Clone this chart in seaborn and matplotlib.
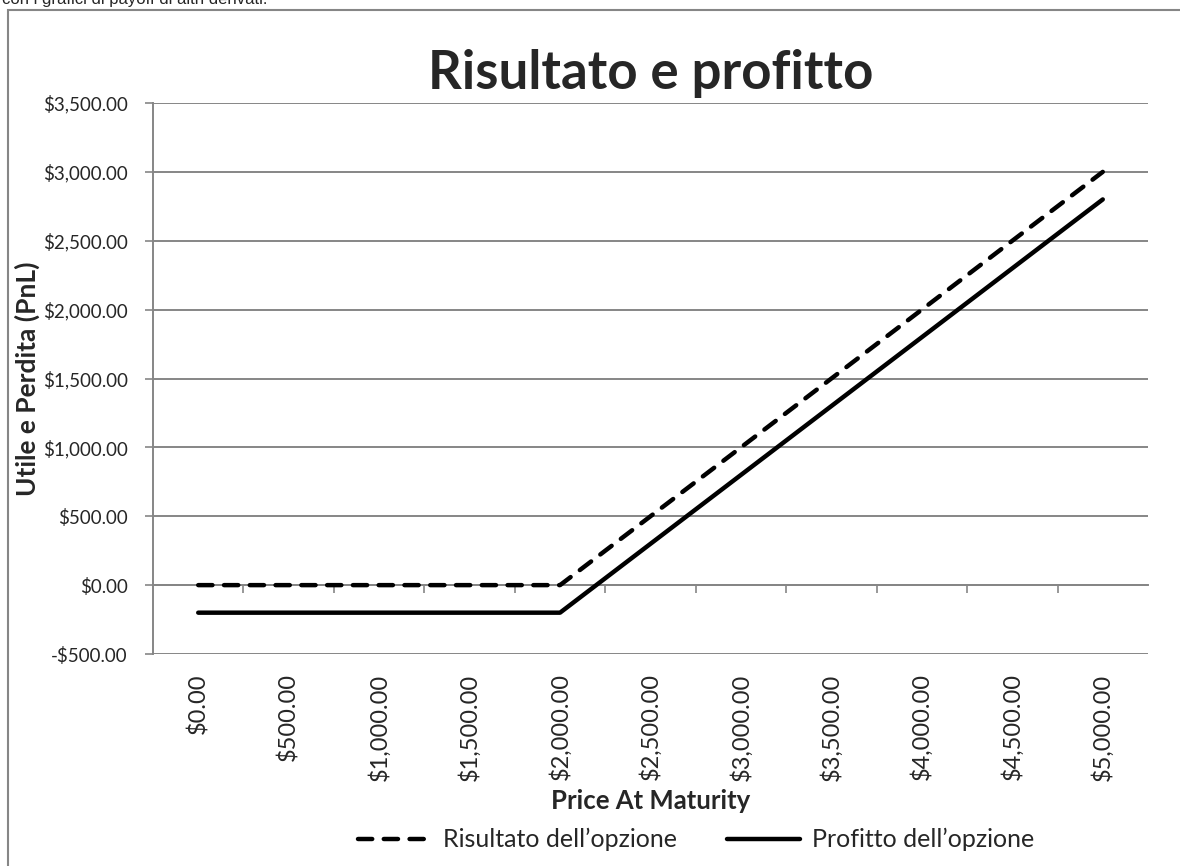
import numpy as np
import pandas as pd
import matplotlib
matplotlib.use("Agg")
import matplotlib.pyplot as plt
import matplotlib.patches as patches
import seaborn as sns

# data (strike 2000, premium 200)
prices = [0, 500, 1000, 1500, 2000, 2500, 3000, 3500, 4000, 4500, 5000]
payoff = [0, 0, 0, 0, 0, 500, 1000, 1500, 2000, 2500, 3000]
profit = [-200, -200, -200, -200, -200, 300, 800, 1300, 1800, 2300, 2800]
series_names = ["Risultato dell\u2019opzione", "Profitto dell\u2019opzione"]
y_ticks = [-500, 0, 500, 1000, 1500, 2000, 2500, 3000, 3500]


def money(v):
    s = "${:,.2f}".format(abs(v))
    return "-" + s if v < 0 else s


sns.set_theme(style="white")
plt.rcParams['font.family'] = ['Lato', 'DejaVu Sans']

grid_col = "#868686"
fig = plt.figure(figsize=(11.8, 8.66), dpi=100)
ax = fig.add_axes([153 / 1180, 1 - 654 / 866, 995 / 1180, 551 / 866])

idx = np.arange(len(prices))
df = pd.DataFrame({
    "pos": np.concatenate([idx, idx]),
    "value": payoff + profit,
    "serie": [series_names[0]] * len(idx) + [series_names[1]] * len(idx),
})

sns.lineplot(data=df[df.serie == series_names[0]], x="pos", y="value", ax=ax,
             color="black", linewidth=3.2, label=series_names[0])
sns.lineplot(data=df[df.serie == series_names[1]], x="pos", y="value", ax=ax,
             color="black", linewidth=3.2, label=series_names[1])
ax.lines[0].set_dashes([3.2, 2.6])
ax.lines[0].set_dash_capstyle("round")
ax.lines[1].set_solid_capstyle("round")

ax.set_xlim(-0.5, len(prices) - 0.5)
ax.set_ylim(-500, 3500)
ax.set_yticks(y_ticks)
ax.set_yticklabels([money(v) for v in y_ticks], fontsize=13.5)
ax.set_xticks(idx)
ax.set_xticklabels([money(v) for v in prices], rotation=90, fontsize=17)
ax.tick_params(axis="x", length=0, pad=14)
ax.tick_params(axis="y", length=6, width=1.2, color=grid_col, left=True, pad=12)

for v in y_ticks:
    ax.axhline(v, color=grid_col, linewidth=1.4, zorder=0)
for side in ["top", "right", "bottom"]:
    ax.spines[side].set_visible(False)
ax.spines["left"].set_color(grid_col)
ax.spines["left"].set_linewidth(1.4)

# horizontal category axis crosses at $0.00, tick marks between categories
sec = ax.secondary_xaxis(500 / 4000)
sec.set_xticks(idx[:-1] + 0.5)
sec.set_xticklabels([])
sec.tick_params(direction="out", length=6, width=1.2, color=grid_col)
sec.spines["bottom"].set_color(grid_col)
sec.spines["bottom"].set_linewidth(1.4)

ax.set_xlabel("Price At Maturity", fontsize=18.5, fontweight="bold", labelpad=6)
ax.set_ylabel("Utile e Perdita (PnL)", fontsize=19, fontweight="bold", labelpad=2)
ax.set_title("Risultato e profitto", fontsize=38, fontweight="bold", pad=10)

ax.get_legend().remove()
h, l = ax.get_legend_handles_labels()
fig.legend(h, l, loc="lower center", bbox_to_anchor=(0.59, -0.009), ncol=2,
           frameon=False, fontsize=18, handlelength=2.9, columnspacing=2.0,
           handletextpad=0.5)

# outer chart frame and cut-off text above it
fig.patches.append(patches.Rectangle((8 / 1180, -0.1), 1.2, (866 - 10) / 866 + 0.1,
                                     transform=fig.transFigure, fill=False,
                                     edgecolor=grid_col, linewidth=1.5))
fig.text(2 / 1180, 1 - 4 / 866, "con i grafici di payoff di altri derivati.",
         fontsize=12, va="baseline", ha="left", family=["Liberation Sans"])

fig.savefig("out.png", dpi=100)
